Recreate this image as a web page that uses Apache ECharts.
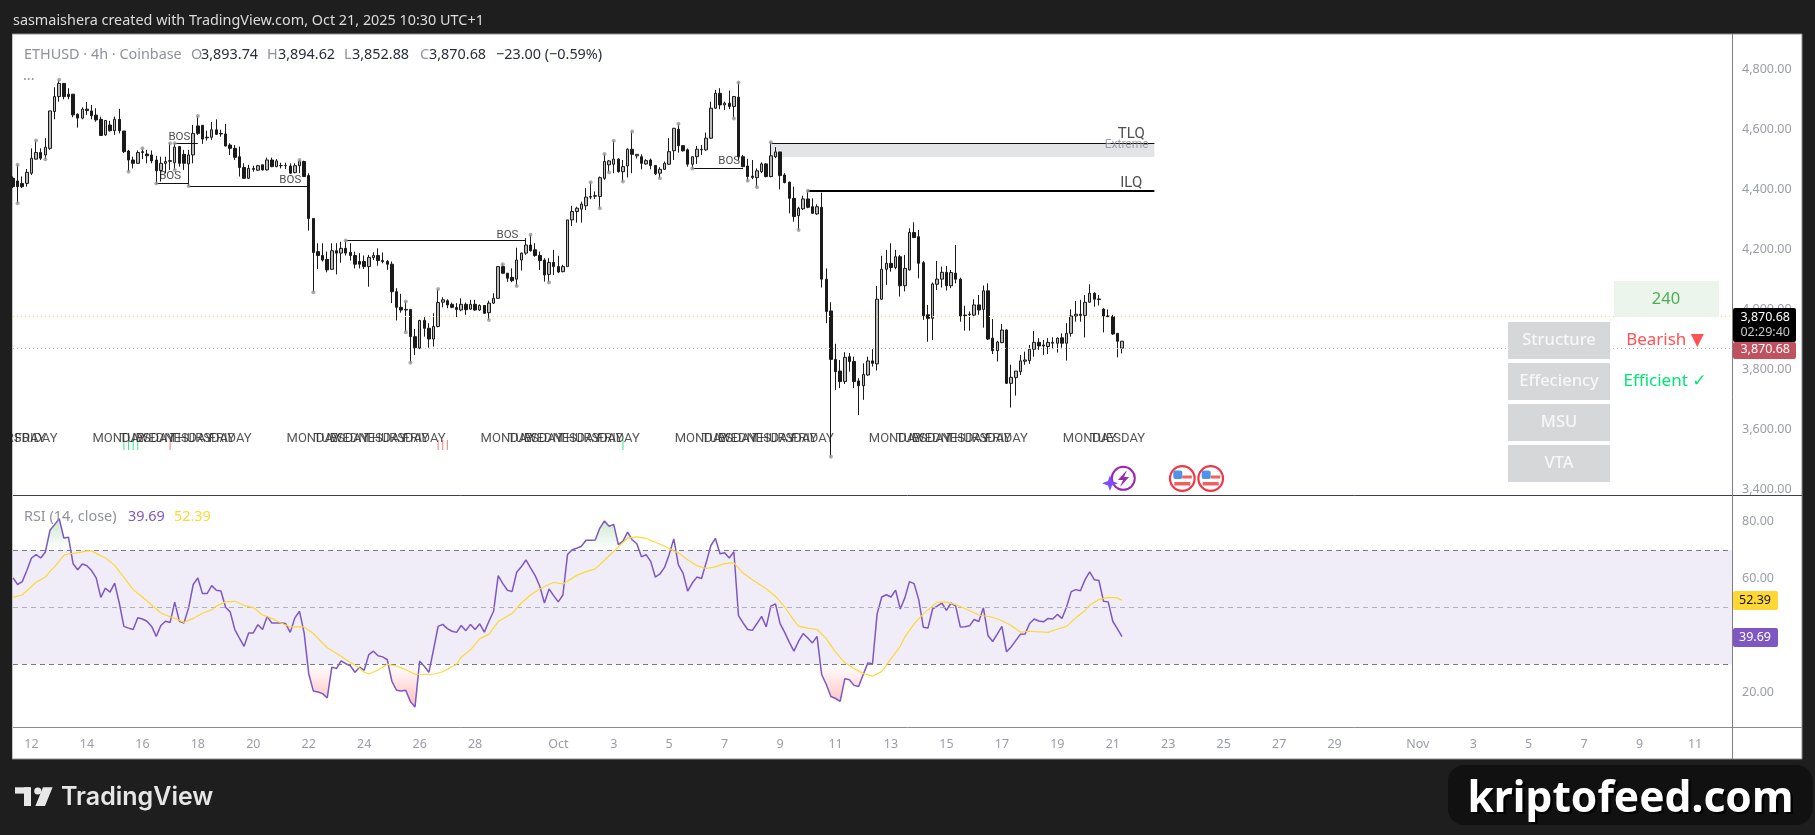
<!DOCTYPE html>
<html>
<head>
<meta charset="utf-8">
<title>ETHUSD 4h</title>
<style>html,body{margin:0;padding:0;background:#1e1e1e}#chart{width:1815px;height:835px}</style>
<script src="https://cdn.jsdelivr.net/npm/echarts@6/dist/echarts.min.js"></script>
</head>
<body>
<div id="chart"></div>
<script>
// ETHUSD 4h candles (Coinbase), one entry per bar from 11 Sep to 21 Oct 2025
const opens = [
4438,4429,4421,4421,4455,4502,4524,4516,4538,4661,
4711,4755,4719,4719,4652,4639,4669,4663,4649,4635,
4583,4616,4597,4635,4596,4529,4499,4488,4524,4519,
4516,4499,4464,4488,4497,4490,4544,4518,4486,4516,
4613,4615,4575,4575,4600,4588,4586,4549,4538,4510,
4474,4438,4471,4465,4483,4466,4499,4477,4481,4480,
4479,4457,4480,4494,4447,4304,4193,4180,4167,4134,
4196,4188,4204,4191,4180,4160,4160,4143,4173,4180,
4163,4160,4151,4059,4007,4000,4000,3909,3871,3963,
3937,3901,3943,4024,4029,4017,4006,3998,4017,4001,
4017,3998,4013,3989,4021,4037,4143,4121,4107,4101,
4165,4188,4215,4199,4180,4165,4117,4157,4143,4126,
4143,4299,4327,4335,4346,4375,4378,4377,4438,4483,
4485,4502,4460,4479,4535,4513,4510,4486,4499,4481,
4455,4468,4485,4530,4602,4547,4533,4485,4510,4533,
4533,4572,4672,4722,4683,4689,4678,4709,4510,4479,
4445,4440,4460,4486,4444,4510,4526,4449,4425,4371,
4313,4336,4369,4343,4319,4341,4101,3995,3833,3794,
3759,3842,3826,3761,3745,3781,3828,3818,4034,4134,
4154,4140,4176,4079,4132,4257,4243,4156,3982,3970,
4084,4101,4124,4079,4121,4101,3981,3982,3981,4015,
4000,4062,3904,3862,3889,3931,3753,3772,3792,3827,
3829,3867,3890,3881,3876,3887,3887,3905,3887,3920,
3978,3984,3980,4024,4054,4035,4001,3978,3976,3920,
3893.74];
const closes = [
4410,4410,4410,4458,4505,4524,4505,4542,4663,4711,
4755,4711,4711,4650,4639,4669,4664,4647,4633,4581,
4631,4597,4635,4597,4527,4499,4488,4524,4527,4513,
4496,4463,4488,4494,4495,4542,4488,4488,4516,4588,
4588,4569,4573,4600,4585,4586,4546,4538,4508,4474,
4438,4471,4468,4480,4466,4499,4477,4496,4480,4481,
4455,4480,4495,4444,4304,4190,4180,4165,4132,4196,
4188,4204,4188,4180,4151,4151,4143,4174,4180,4163,
4160,4151,4059,4007,3998,3998,3909,3872,3963,3937,
3901,3943,4023,4032,4015,4007,4000,4017,3999,4017,
3998,4013,3987,4021,4037,4143,4121,4104,4096,4165,
4188,4215,4196,4180,4163,4115,4157,4143,4125,4143,
4299,4327,4338,4352,4375,4377,4380,4440,4494,4496,
4502,4460,4477,4535,4518,4518,4488,4497,4481,4453,
4468,4488,4527,4605,4547,4530,4485,4510,4535,4535,
4572,4672,4722,4683,4689,4678,4711,4510,4477,4444,
4441,4463,4486,4444,4513,4526,4447,4424,4371,4310,
4338,4369,4341,4321,4343,4101,3993,3833,3792,3759,
3840,3826,3759,3745,3783,3828,3820,4034,4134,4154,
4140,4176,4079,4137,4257,4240,4154,3979,3970,4085,
4101,4124,4079,4123,4101,3978,3979,3984,4015,3998,
4062,3901,3862,3891,3931,3753,3773,3794,3828,3831,
3867,3890,3878,3878,3890,3890,3904,3887,3920,3978,
3984,3980,4024,4054,4034,4033,3978,3976,3918,3893.68,
3870.68];
const highs = [
4444,4483,4444,4469,4538,4564,4538,4572,4663,4742,
4767,4755,4739,4719,4655,4675,4693,4683,4672,4644,
4633,4630,4644,4670,4596,4533,4510,4531,4538,4533,
4531,4513,4510,4510,4555,4555,4544,4533,4533,4616,
4646,4615,4597,4626,4635,4600,4620,4555,4549,4544,
4488,4483,4480,4483,4483,4507,4507,4502,4490,4490,
4488,4488,4499,4497,4455,4304,4221,4221,4193,4221,
4221,4226,4230,4221,4193,4188,4180,4182,4191,4204,
4190,4165,4160,4071,4052,4026,4000,3935,3965,3974,
3954,3987,4068,4041,4034,4023,4021,4037,4023,4032,
4032,4017,4013,4029,4054,4145,4151,4121,4137,4206,
4190,4238,4249,4221,4193,4171,4171,4199,4179,4149,
4299,4346,4343,4360,4405,4425,4394,4444,4519,4499,
4563,4505,4499,4538,4594,4518,4518,4502,4504,4481,
4475,4494,4572,4605,4620,4549,4538,4510,4546,4549,
4591,4694,4733,4739,4694,4731,4713,4758,4516,4503,
4499,4471,4491,4488,4558,4542,4526,4455,4427,4410,
4343,4380,4396,4371,4351,4390,4137,4024,3885,3831,
3857,3854,3842,3770,3820,3842,3867,4078,4179,4199,
4221,4199,4182,4182,4271,4291,4265,4162,4015,4090,
4162,4143,4145,4132,4215,4106,4012,3993,4034,4048,
4080,4087,3968,3895,3951,3934,3815,3794,3848,3859,
3881,3928,3904,3898,3904,3907,3906,3920,3954,4000,
4028,4032,4048,4084,4057,4048,4004,4000,3982,3920,
3894.62];
const lows = [
4405,4355,4405,4410,4449,4501,4499,4502,4533,4635,
4694,4702,4702,4642,4607,4635,4650,4635,4627,4580,
4580,4594,4583,4588,4522,4460,4471,4486,4502,4488,
4488,4421,4427,4455,4466,4466,4477,4466,4412,4488,
4583,4553,4564,4566,4583,4577,4544,4516,4499,4444,
4436,4436,4460,4463,4464,4464,4475,4475,4471,4469,
4453,4455,4455,4442,4263,4057,4135,4160,4124,4132,
4117,4156,4180,4163,4137,4137,4135,4076,4165,4146,
4154,4132,4021,3963,3989,3924,3822,3848,3867,3909,
3872,3876,3940,4007,4004,4004,3974,3994,3982,3998,
3995,3995,3985,3965,4018,4035,4119,4092,4091,4078,
4130,4182,4193,4176,4132,4093,4090,4115,4121,4124,
4143,4279,4290,4290,4332,4368,4369,4338,4433,4457,
4455,4457,4427,4441,4455,4504,4468,4483,4468,4449,
4438,4466,4483,4499,4524,4527,4477,4471,4486,4516,
4530,4569,4670,4669,4666,4669,4638,4499,4475,4430,
4435,4408,4455,4441,4441,4505,4401,4421,4321,4293,
4265,4332,4338,4319,4316,4073,3954,3508,3731,3737,
3751,3792,3737,3647,3698,3778,3809,3796,4032,4082,
4126,4134,4043,4060,4130,4238,4104,3965,3892,3898,
4065,4073,4063,4071,4087,3959,3929,3929,3974,3982,
3939,3898,3851,3826,3887,3751,3672,3712,3781,3815,
3818,3842,3865,3848,3851,3870,3856,3872,3829,3909,
3959,3959,3906,4023,4009,4013,3923,3974,3915,3840,
3852.88];

// RSI(14) per bar
const rsiValues = [
60.3,58.0,59.0,62.9,67.3,68.5,67.3,69.4,77.0,79.0,
81.1,74.3,74.6,65.3,63.2,65.2,64.6,62.9,60.3,53.5,
56.7,55.3,58.5,51.5,43.3,42.7,42.2,46.3,45.9,45.1,
43.3,39.8,43.6,45.1,44.7,51.8,45.1,44.5,49.8,58.0,
60.3,54.8,54.8,57.6,56.0,55.7,50.0,48.4,42.2,39.2,
36.3,41.0,41.0,43.9,42.2,46.8,44.5,44.5,44.5,44.3,
41.2,46.3,48.6,41.0,26.7,20.6,20.3,19.7,18.2,29.0,
28.5,31.2,30.2,29.5,27.2,29.0,27.9,33.4,34.6,33.0,
32.6,31.6,24.0,20.9,20.6,20.9,16.9,15.0,31.1,29.3,
27.2,35.1,43.3,44.0,42.5,41.6,41.2,43.6,41.8,44.0,
42.2,44.2,41.3,45.1,48.6,61.1,58.3,56.0,55.5,62.3,
64.2,66.6,63.8,61.1,57.4,51.5,56.4,54.1,51.9,54.3,
68.5,70.2,70.7,71.4,73.5,73.5,73.6,77.8,80.3,78.4,
79.1,72.0,73.2,76.4,73.7,72.3,67.7,68.5,66.1,60.6,
61.7,64.0,68.5,74.0,64.9,62.0,55.7,58.5,60.6,60.1,
65.6,71.6,74.2,68.8,69.1,67.3,69.5,47.1,44.5,42.2,
41.9,44.3,46.8,43.1,50.4,51.2,44.3,41.2,37.7,34.6,
38.1,40.8,39.2,37.5,39.8,26.4,22.9,18.7,18.0,17.0,
24.9,24.6,22.6,22.2,26.4,30.5,30.2,47.7,53.6,54.4,
53.6,56.0,49.4,53.3,59.0,58.3,52.7,43.0,42.7,49.4,
50.4,51.5,48.9,51.5,50.4,43.1,43.2,43.5,45.7,45.0,
49.8,40.1,38.0,40.6,43.3,34.4,36.1,38.3,40.5,40.6,
44.3,45.9,45.2,44.9,46.1,45.9,47.5,46.1,50.1,55.5,
56.2,55.8,59.7,62.4,59.7,59.4,52.1,51.9,45.1,42.4,
39.69];

// RSI moving average, sampled at these bars
const maBars = [0,2,3,5,7,8,9,11,12,14,16,17,19,20,22,24,26,28,30,32,33,35,37,39,41,43,44,46,48,50,52,54,56,58,60,63,65,68,71,73,75,76,77,79,81,83,85,87,89,91,93,96,97,99,101,103,105,108,110,112,114,116,117,119,122,124,126,128,131,133,135,137,139,141,143,144,146,148,150,152,154,156,158,160,163,165,167,169,170,172,174,176,178,180,182,184,186,188,190,192,193,195,197,200,202,204,206,209,212,214,216,218,220,224,226,228,230,232,233,235,237,239,240];
const maValues = [53.5,54.3,55.8,58.8,60.6,62.6,64.2,68.2,68.7,69.1,69.8,69.8,68.1,67.4,64.7,60.5,56.2,53.6,50.8,48.0,47.3,46.1,44.7,46.1,47.9,49.1,50.4,51.9,52.1,50.7,49.9,47.3,46.1,44.5,43.1,43.1,40.8,35.8,32.8,30.6,28.6,27.2,26.6,28.0,30.0,29.4,28.1,26.5,26.5,26.5,27.4,30.0,32.5,35.1,39.0,40.5,45.0,47.8,51.5,54.3,56.4,58.1,58.7,58.2,61.2,62.5,63.5,66.5,71.2,74.3,74.7,74.2,72.8,71.4,69.8,69.1,66.7,64.6,63.6,64.2,65.3,65.6,62.0,59.7,56.5,53.9,50.1,45.4,43.4,42.7,42.2,39.0,34.3,30.6,28.5,26.8,25.8,27.5,31.9,36.3,39.6,44.2,47.7,51.8,51.8,50.9,49.6,47.3,46.5,45.3,43.6,41.3,41.6,41.2,42.4,43.3,46.3,48.9,50.7,52.7,53.5,53.3,52.39];

// Date axis: bar index of each labelled tick
const dateTickBars = [4,16,28,40,52,64,76,88,100,118,130,142,154,166,178,190,202,214,226,238,250,262,274,286,304,316,328,340,352,364];
const dateTickLabels = ['12','14','16','18','20','22','24','26','28','Oct','3','5','7','9','11','13','15','17','19','21','23','25','27','29','Nov','3','5','7','9','11'];
const priceTicks = [3400,3600,3800,4000,4200,4400,4600,4800];
const rsiTicks = [20,60,80];

// Market structure drawings
const bosFromBars = [31,35,38,72,147];
const bosToBars = [38,40,64,111,158];
const bosPrices = [4421,4555,4412,4232,4471];
const bosLabelBars = [34,36,60,107,155];
const bosLabelPrices = [4446,4577,4433,4249,4497];
const pivotHighBars = [1,5,10,28,34,35,40,62,72,85,92,106,112,125,128,130,134,144,157,164,172];
const pivotLowBars = [1,7,25,31,35,38,65,85,86,103,109,116,127,129,132,140,147,156,159,161,170,177];
const dayLabelBars = [0,5,23,29,35,41,47,65,71,77,83,89,107,113,119,125,131,149,155,161,167,173,191,197,203,209,215,233,239];
const dayLabelNames = ['THURSDAY','FRIDAY','MONDAY','TUESDAY','WEDNESDAY','THURSDAY','FRIDAY','MONDAY','TUESDAY','WEDNESDAY','THURSDAY','FRIDAY','MONDAY','TUESDAY','WEDNESDAY','THURSDAY','FRIDAY','MONDAY','TUESDAY','WEDNESDAY','THURSDAY','FRIDAY','MONDAY','TUESDAY','WEDNESDAY','THURSDAY','FRIDAY','MONDAY','TUESDAY'];
const signalUpBars = [24,25,26,27,132];
const signalDownBars = [34,92,93,94];
const tlqPrice = 4555, ilqPrice = 4396, extremeLow = 4509, levelEndBar = 247;
const sessionLevel = 3977;

const barCount = 373;
const categories = Array.from({length: barCount}, (_, i) => 'bar' + i);
const lastBar = opens.length - 1;
const fontUI = '"Noto Sans", "DejaVu Sans", sans-serif';
const tickGrey = '#9a9da6';

const money = v => v.toLocaleString('en-US', {minimumFractionDigits: 2, maximumFractionDigits: 2});

const candleData = opens.map((o, i) => {
  const value = [o, closes[i], lows[i], highs[i]];
  // the forming bar stays hollow until it closes
  return i === lastBar ? {value, itemStyle: {color0: '#b8b8b8'}} : value;
});

function textSeries(data, fontSize, color, fontFamily) {
  return {
    type: 'scatter', xAxisIndex: 0, yAxisIndex: 0, symbolSize: 0, silent: true, z: 6, clip: false,
    data,
    label: {show: true, position: 'inside', formatter: p => p.data[2], fontSize, color, fontFamily}
  };
}

const series = [
  {
    type: 'candlestick', xAxisIndex: 0, yAxisIndex: 0, barWidth: 3, z: 4, clip: true,
    data: candleData,
    itemStyle: {color: '#b8b8b8', color0: '#1a1a1a', borderColor: '#1a1a1a', borderColor0: '#1a1a1a', borderWidth: 1},
    markLine: {
      silent: true, symbol: 'none', label: {show: false}, animation: false,
      data: [
        {yAxis: sessionLevel, lineStyle: {color: '#f5e642', type: [1, 3], width: 1}},
        {yAxis: closes[lastBar], lineStyle: {color: '#aeb0b6', type: [1, 3], width: 1}}
      ]
    },
    markArea: {
      silent: true, animation: false, itemStyle: {color: '#e3e4e6'},
      data: [[{coord: [164, tlqPrice]}, {coord: [levelEndBar, extremeLow]}]]
    }
  },
  {
    type: 'scatter', xAxisIndex: 0, yAxisIndex: 0, symbolSize: 4, silent: true, z: 5,
    itemStyle: {color: '#9a9a9a'},
    data: pivotHighBars.map(i => [i, highs[i]]).concat(pivotLowBars.map(i => [i, lows[i]]))
  },
  {
    type: 'scatter', xAxisIndex: 0, yAxisIndex: 0, symbol: 'rect', symbolSize: [1, 10], silent: true, z: 5,
    itemStyle: {color: '#00e676'}, data: signalUpBars.map(i => [i, 3547])
  },
  {
    type: 'scatter', xAxisIndex: 0, yAxisIndex: 0, symbol: 'rect', symbolSize: [1, 10], silent: true, z: 5,
    itemStyle: {color: '#ff5252'}, data: signalDownBars.map(i => [i, 3547])
  },
  {
    type: 'line', xAxisIndex: 0, yAxisIndex: 0, symbol: 'none', silent: true, z: 5, data: [],
    markLine: {
      silent: true, symbol: 'none', label: {show: false}, animation: false,
      lineStyle: {color: '#111', type: 'solid', width: 1},
      data: bosFromBars.map((from, k) => [{coord: [from, bosPrices[k]]}, {coord: [bosToBars[k], bosPrices[k]]}]).concat([
        [{coord: [164, tlqPrice]}, {coord: [levelEndBar, tlqPrice]}],
        [{coord: [172, ilqPrice], lineStyle: {width: 2.2, color: '#000', type: 'solid'}}, {coord: [levelEndBar, ilqPrice]}]
      ])
    }
  },
  textSeries(dayLabelBars.map((b, k) => [b, 3567, dayLabelNames[k]]), 13, '#2a2a2a', 'Roboto, sans-serif'),
  textSeries(bosLabelBars.map((b, k) => [b, bosLabelPrices[k], 'BOS']), 11.5, '#222', 'Roboto, sans-serif'),
  textSeries([[242, 4586, 'TLQ'], [242, 4423, 'ILQ']], 15, '#222', 'Roboto, sans-serif'),
  textSeries([[241, 4550, 'Extreme']], 12, '#8a8c92', 'Roboto, sans-serif'),
  // RSI pane
  {
    type: 'line', xAxisIndex: 1, yAxisIndex: 1, symbol: 'none', silent: true, z: 3,
    data: rsiValues.map(v => Math.max(v, 70)), lineStyle: {width: 0},
    areaStyle: {origin: 70, color: {type: 'linear', x: 0, y: 0, x2: 0, y2: 1, colorStops: [
      {offset: 0, color: 'rgba(76,175,80,0.42)'}, {offset: 1, color: 'rgba(76,175,80,0)'}]}}
  },
  {
    type: 'line', xAxisIndex: 1, yAxisIndex: 1, symbol: 'none', silent: true, z: 3,
    data: rsiValues.map(v => Math.min(v, 30)), lineStyle: {width: 0},
    areaStyle: {origin: 30, color: {type: 'linear', x: 0, y: 0, x2: 0, y2: 1, colorStops: [
      {offset: 0, color: 'rgba(255,82,82,0)'}, {offset: 1, color: 'rgba(255,82,82,0.55)'}]}}
  },
  {
    type: 'line', xAxisIndex: 1, yAxisIndex: 1, symbol: 'none', silent: true, z: 4,
    data: rsiValues, lineStyle: {color: '#7e57c2', width: 1.5},
    markArea: {
      silent: true, animation: false, itemStyle: {color: '#f0edf8'},
      data: [[{coord: [0, 70]}, {coord: [barCount - 1, 30]}]]
    },
    markLine: {
      silent: true, symbol: 'none', label: {show: false}, animation: false,
      data: [
        {yAxis: 70, lineStyle: {color: '#787b86', type: [5, 4], width: 1}},
        {yAxis: 50, lineStyle: {color: '#b0b2b9', type: [5, 4], width: 1}},
        {yAxis: 30, lineStyle: {color: '#787b86', type: [5, 4], width: 1}}
      ]
    }
  },
  {
    type: 'line', xAxisIndex: 1, yAxisIndex: 1, symbol: 'none', silent: true, z: 5,
    data: maBars.map((b, k) => [b, maValues[k]]), lineStyle: {color: '#fdd835', width: 1.2}
  }
];

// Page furniture: header, legends, status table, price tags, event icons, branding
const txt = (x, y, text, fill, size, extra) => ({
  type: 'text', x, y, z: 60,
  style: Object.assign({text, fill, font: size + 'px ' + fontUI, textVerticalAlign: 'middle', textBaseline: 'middle'}, extra || {})
});
const box = (x, y, w, h, fill, r) => ({type: 'rect', z: 55, shape: {x, y, width: w, height: h, r: r || 0}, style: {fill}});
const ln = (x1, y1, x2, y2, stroke) => ({type: 'line', z: 50, shape: {x1, y1, x2, y2}, style: {stroke, lineWidth: 1}});

const legendGrey = '#8f929b', legendInk = '#2a2e39';
const statusRows = [['Structure', 322], ['Effeciency', 363], ['MSU', 404], ['VTA', 445]];

function usFlag(cx, cy) {
  return [
    {type: 'circle', z: 55, shape: {cx, cy, r: 12.3}, style: {fill: '#fff', stroke: '#f23645', lineWidth: 2.2}},
    box(cx - 9, cy - 8, 9, 8.5, '#4f94e8', 2),
    box(cx, cy - 3, 9.5, 3, '#f0605f'),
    box(cx - 8, cy + 3.5, 16, 3.5, '#f0605f')
  ];
}

const graphicEls = [
  {type: 'rect', z: -5, shape: {x: 12, y: 34, width: 1790, height: 725}, style: {fill: '#fff', stroke: '#8d8d8d', lineWidth: 1}},
  box(0, 34, 12, 726, '#1e1e1e'),
  ln(13, 495.5, 1802, 495.5, '#3f4148'),
  ln(13, 727.5, 1802, 727.5, '#8a8c90'),
  ln(1732.5, 34, 1732.5, 759, '#7d7f84'),

  txt(13, 21, 'sasmaishera created with TradingView.com, Oct 21, 2025 10:30 UTC+1', '#dcdcdc', 14.4),

  txt(24, 55, 'ETHUSD · 4h · Coinbase', legendGrey, 14.4),
  txt(191, 55, 'O', legendGrey, 14.4), txt(201, 55, money(opens[lastBar]), legendInk, 14.4),
  txt(267, 55, 'H', legendGrey, 14.4), txt(278, 55, money(highs[lastBar]), legendInk, 14.4),
  txt(344, 55, 'L', legendGrey, 14.4), txt(352, 55, money(lows[lastBar]), legendInk, 14.4),
  txt(420, 55, 'C', legendGrey, 14.4), txt(429, 55, money(closes[lastBar]), legendInk, 14.4),
  txt(496, 55, '−23.00 (−0.59%)', legendInk, 14.4),
  txt(23, 76, '...', legendGrey, 14.4),

  txt(24, 517, 'RSI (14, close)', legendGrey, 14.4),
  txt(128, 517, rsiValues[lastBar].toFixed(2), '#7e57c2', 14.4),
  txt(174, 517, maValues[maValues.length - 1].toFixed(2), '#fdd835', 14.4),

  box(1614, 281, 105, 36, '#ecf5ec'),
  txt(1666, 299, '240', '#4caf50', 16.5, {textAlign: 'center'}),
  ...statusRows.flatMap(([name, top]) => [
    box(1508, top, 102, 37, '#d6d7d9'),
    txt(1559, top + 18.5, name, '#f7f7f7', 16.5, {textAlign: 'center', font: '500 16.5px ' + fontUI})
  ]),
  txt(1665, 340, 'Bearish ▼', '#ff5252', 17, {textAlign: 'center'}),
  txt(1665, 381, 'Efficient ✓', '#00e676', 17, {textAlign: 'center'}),

  box(1733, 308, 63, 34, '#000', 2),
  txt(1790, 317, money(closes[lastBar]), '#fff', 12.5, {textAlign: 'right'}),
  txt(1790, 332, '02:29:40', '#c8c8c8', 12.5, {textAlign: 'right'}),
  box(1733, 342, 63, 17, '#c2515f', 2),
  txt(1790, 349, money(closes[lastBar]), '#fff', 12.5, {textAlign: 'right'}),
  box(1733, 591, 45, 19, '#fdd835', 2),
  txt(1771, 600.5, maValues[maValues.length - 1].toFixed(2), '#111', 12.5, {textAlign: 'right'}),
  box(1733, 628, 45, 19, '#7e57c2', 2),
  txt(1771, 637.5, rsiValues[lastBar].toFixed(2), '#fff', 12.5, {textAlign: 'right'}),

  // earnings-style event marker and two US events
  {type: 'circle', z: 55, shape: {cx: 1123.3, cy: 478.3, r: 11.5}, style: {fill: '#fff', stroke: '#9c27b0', lineWidth: 2}},
  {type: 'polygon', z: 56, shape: {points: [[1127, 470], [1118, 480], [1123, 480], [1120, 487], [1129, 477], [1124, 477]]}, style: {fill: '#9c27b0'}},
  {type: 'polygon', z: 57, shape: {points: [[1110, 475], [1112, 481], [1118, 483.3], [1112, 485.5], [1110, 491], [1108, 485.5], [1102, 483.3], [1108, 481]]}, style: {fill: '#7c4dff'}},
  ...usFlag(1182.3, 478.5),
  ...usFlag(1210.7, 478.5),

  // wordmark bottom left
  box(15, 787.3, 15.5, 6.3, '#e8e8e8'),
  box(24, 787.3, 7, 18.7, '#e8e8e8'),
  {type: 'circle', z: 55, shape: {cx: 37.8, cy: 791, r: 3.6}, style: {fill: '#e8e8e8'}},
  {type: 'polygon', z: 55, shape: {points: [[43, 787.3], [52.6, 787.3], [45, 806], [35.4, 806]]}, style: {fill: '#e8e8e8'}},
  txt(61, 797, 'TradingView', '#e6e6e6', 25, {font: '600 25px Inter, "Noto Sans", sans-serif'}),

  // site badge bottom right
  box(1448, 765, 364.5, 60, '#111111', 16),
  txt(1470, 802, 'kriptofeed.com', '#000', 42.5, {font: '700 42.5px "Noto Sans", sans-serif'}),
  txt(1467.5, 800, 'kriptofeed.com', '#fff', 42.5, {font: '700 42.5px "Noto Sans", sans-serif'})
];

const chart = echarts.init(document.getElementById('chart'), null, {renderer: 'canvas'});
chart.setOption({
  animation: false,
  backgroundColor: '#1e1e1e',
  grid: [
    {left: 13, right: 83, top: 34, height: 461},
    {left: 13, right: 83, top: 495, height: 232}
  ],
  xAxis: [
    {type: 'category', gridIndex: 0, data: categories, boundaryGap: false, show: false},
    {
      type: 'category', gridIndex: 1, data: categories, boundaryGap: false,
      axisLine: {show: false}, axisTick: {show: false}, splitLine: {show: false},
      axisLabel: {
        interval: i => dateTickBars.includes(i),
        formatter: (v, i) => dateTickLabels[dateTickBars.indexOf(i)] || '',
        color: tickGrey, fontSize: 12.5, fontFamily: fontUI, margin: 11, hideOverlap: false
      }
    }
  ],
  yAxis: [
    {
      type: 'value', gridIndex: 0, position: 'right', min: 3380, max: 4920, interval: 20, scale: true,
      axisLine: {show: false}, axisTick: {show: false}, splitLine: {show: false},
      axisLabel: {
        color: tickGrey, fontSize: 12.5, fontFamily: fontUI, margin: 10, padding: [2, 0, 0, 0],
        formatter: v => priceTicks.includes(v) ? money(v) : ''
      }
    },
    {
      type: 'value', gridIndex: 1, position: 'right', min: 8, max: 89.4, interval: 4,
      axisLine: {show: false}, axisTick: {show: false}, splitLine: {show: false},
      axisLabel: {
        color: tickGrey, fontSize: 12.5, fontFamily: fontUI, margin: 10, padding: [2, 0, 0, 0],
        formatter: v => rsiTicks.includes(v) ? v.toFixed(2) : ''
      }
    }
  ],
  series,
  graphic: {elements: graphicEls}
});
</script>
</body>
</html>
